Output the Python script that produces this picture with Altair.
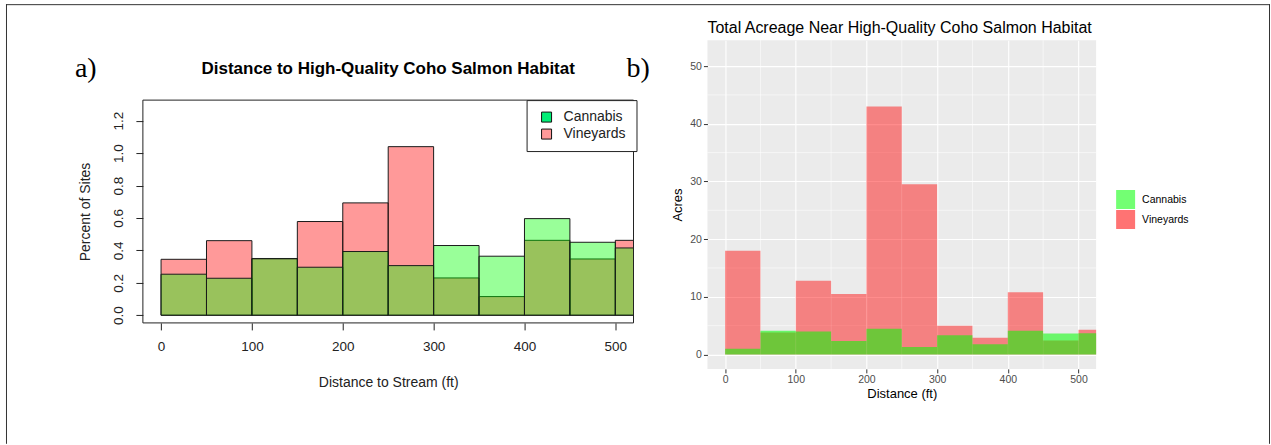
import altair as alt
import pandas as pd

# ---------------- data ----------------
bin_starts = [0, 50, 100, 150, 200, 250, 300, 350, 400, 450, 500]
bin_width = 50
series_names = ["Cannabis", "Vineyards"]

# panel a) percent of sites per 50-ft bin
pct_vineyards = [0.345, 0.46, 0.35, 0.578, 0.693, 1.04, 0.23, 0.115, 0.462, 0.347, 0.462]
pct_cannabis = [0.253, 0.228, 0.348, 0.296, 0.393, 0.306, 0.43, 0.364, 0.596, 0.45, 0.415]

# panel b) total acreage per 50-ft bin
acres_vineyards = [18.0, 3.8, 12.8, 10.5, 43.0, 29.5, 5.0, 2.9, 10.8, 2.4, 4.3]
acres_cannabis = [1.0, 4.1, 4.0, 2.35, 4.45, 1.3, 3.35, 1.75, 4.1, 3.65, 3.7]

left_x_ticks = [0, 100, 200, 300, 400, 500]
left_y_ticks = [0.0, 0.2, 0.4, 0.6, 0.8, 1.0, 1.2]
left_box_x = [-20, 520]
left_box_y = [-0.0475, 1.327]
right_x_ticks = [0, 100, 200, 300, 400, 500]
right_y_ticks = [0, 10, 20, 30, 40, 50]
right_x_minor = [50, 150, 250, 350, 450]
right_y_minor = [5, 15, 25, 35, 45]

FONT = "Liberation Sans"
INK = "#222222"


def series_frame(vals, name):
    return pd.DataFrame({
        "start": bin_starts,
        "end": [s + bin_width for s in bin_starts],
        "value": vals,
        "series": [name] * len(vals),
    })


one = pd.DataFrame({"k": [0]})

# ---------------- panel a (base-R style) ----------------
lx = alt.X(
    "start:Q",
    scale=alt.Scale(domain=left_box_x, nice=False, zero=False),
    axis=alt.Axis(
        values=left_x_ticks, title="Distance to Stream (ft)", domain=False, grid=False,
        tickSize=7, tickColor=INK, labelColor=INK, labelFont=FONT, labelFontSize=13.5,
        labelPadding=10, titleFont=FONT, titleFontSize=14, titleFontWeight="normal",
        titleColor=INK, titleY=64, titleBaseline="alphabetic",
    ),
)
ly = alt.Y(
    "value:Q",
    scale=alt.Scale(domain=[left_box_y[0], 1.697], nice=False, zero=False),
    axis=alt.Axis(
        values=left_y_ticks, format=".1f", labelAngle=270, labelAlign="center",
        labelBaseline="alphabetic", labelPadding=13, tickSize=7, domain=False, grid=False,
        tickColor=INK, labelColor=INK, labelFont=FONT, labelFontSize=13.5,
        title="Percent of Sites", titleX=-53, titleY=171.5, titleAngle=270,
        titleAlign="center", titleBaseline="alphabetic", titleFont=FONT,
        titleFontSize=14, titleFontWeight="normal", titleColor=INK,
    ),
)

left_vine = alt.Chart(series_frame(pct_vineyards, "Vineyards")).mark_rect(
    fill="#FF0000", fillOpacity=0.4, stroke="#1a1a1a", strokeWidth=1, clip=True
).encode(x=lx, x2="end:Q", y=ly, y2=alt.datum(0))

left_cann = alt.Chart(series_frame(pct_cannabis, "Cannabis")).mark_rect(
    fill="#00FF00", fillOpacity=0.4, stroke="#1a1a1a", strokeWidth=1, clip=True
).encode(x=lx, x2="end:Q", y=ly, y2=alt.datum(0))

left_box = alt.Chart(one).mark_rect(filled=False, stroke=INK, strokeWidth=1).encode(
    x=alt.datum(left_box_x[0]), x2=alt.datum(left_box_x[1]),
    y=alt.datum(left_box_y[0]), y2=alt.datum(left_box_y[1]),
)

left_legend_layer = alt.Chart(pd.DataFrame({"series": series_names})).mark_square(
    opacity=0, size=100
).encode(
    x=alt.value(0), y=alt.value(0),
    fill=alt.Fill(
        "series:N",
        scale=alt.Scale(domain=series_names, range=["#00EE76", "#FF9999"]),
        legend=alt.Legend(
            orient="none", legendX=384, legendY=60, title=None,
            strokeColor=INK, fillColor="white", padding=10,
            symbolType="square", symbolSize=100, symbolStrokeColor="#111111",
            symbolStrokeWidth=1, symbolOffset=3, labelOffset=10, rowPadding=3,
            labelFont=FONT, labelFontSize=14, labelColor=INK,
        ),
    ),
)

# whole-figure frame, background extent, panel letters and titles (page furniture)
bg = alt.Chart(one).mark_rect(fill="white", opacity=0).encode(
    x=alt.value(-143), x2=alt.value(1128), y=alt.value(-40), y2=alt.value(405)
)
frame_left = alt.Chart(one).mark_rule(color="#333333", strokeWidth=1).encode(
    x=alt.value(-136.5), y=alt.value(-36), y2=alt.value(404)
)
frame_right = alt.Chart(one).mark_rule(color="#333333", strokeWidth=1).encode(
    x=alt.value(1127.5), y=alt.value(-36), y2=alt.value(404)
)
frame_top = alt.Chart(one).mark_rule(color="#333333", strokeWidth=1).encode(
    x=alt.value(-137), x2=alt.value(1128), y=alt.value(-35.5)
)
label_a = alt.Chart(one).mark_text(
    text="a)", font="Liberation Serif", fontSize=28, align="left", baseline="alphabetic", color="black"
).encode(x=alt.value(-68), y=alt.value(37))
label_b = alt.Chart(one).mark_text(
    text="b)", font="Liberation Serif", fontSize=28, align="left", baseline="alphabetic", color="black"
).encode(x=alt.value(484), y=alt.value(37))
title_a = alt.Chart(one).mark_text(
    text="Distance to High-Quality Coho Salmon Habitat", font=FONT, fontSize=17,
    fontWeight="bold", align="center", baseline="alphabetic", color="black"
).encode(x=alt.value(245.5), y=alt.value(34))

left = alt.layer(
    bg, frame_left, frame_right, frame_top, label_a, label_b, title_a,
    left_vine, left_cann, left_box, left_legend_layer,
).properties(width=491, height=283)

# ---------------- panel b (ggplot style) ----------------
rx_scale = alt.Scale(domain=[-25, 525], nice=False, zero=False)
ry_scale = alt.Scale(domain=[-2.5, 54.5], nice=False, zero=False)

rx_axis = alt.Axis(
    values=right_x_ticks, grid=True, gridColor="white", gridWidth=1.1, domain=False,
    tickSize=4, tickColor="#333333", labelColor="#4D4D4D", labelFont=FONT,
    labelFontSize=10.5, labelPadding=2, title="Distance (ft)", titleFont=FONT,
    titleFontSize=13, titleFontWeight="normal", titleColor="black", titlePadding=2,
)
ry_axis = alt.Axis(
    values=right_y_ticks, grid=True, gridColor="white", gridWidth=1.1, domain=False,
    tickSize=4, tickColor="#333333", labelColor="#4D4D4D", labelFont=FONT,
    labelFontSize=10.5, labelPadding=2, title="Acres", titleFont=FONT,
    titleFontSize=13, titleFontWeight="normal", titleColor="black", titlePadding=5,
)
rx = alt.X("start:Q", scale=rx_scale, axis=rx_axis)
ry = alt.Y("value:Q", scale=ry_scale, axis=ry_axis)

minor_x = alt.Chart(pd.DataFrame({"start": right_x_minor})).mark_rule(
    color="white", strokeWidth=0.55
).encode(x=rx)
minor_y = alt.Chart(pd.DataFrame({"value": right_y_minor})).mark_rule(
    color="white", strokeWidth=0.55
).encode(y=ry)

right_fill = alt.Fill(
    "series:N",
    scale=alt.Scale(domain=series_names, range=["#00FF00", "#FF0000"]),
    legend=alt.Legend(
        orient="none", legendX=409, legendY=150, title=None, padding=0,
        symbolType="square", symbolSize=361, symbolStrokeWidth=0, symbolOpacity=0.55,
        labelOffset=7, rowPadding=1, labelFont=FONT, labelFontSize=10.5, labelColor="black",
    ),
)

right_vine = alt.Chart(series_frame(acres_vineyards, "Vineyards")).mark_rect(
    fillOpacity=0.45, clip=True
).encode(x=rx, x2="end:Q", y=ry, y2=alt.datum(0), fill=right_fill)
right_cann = alt.Chart(series_frame(acres_cannabis, "Cannabis")).mark_rect(
    fillOpacity=0.55, clip=True
).encode(x=rx, x2="end:Q", y=ry, y2=alt.datum(0), fill=right_fill)

title_b = alt.Chart(one).mark_text(
    text="Total Acreage Near High-Quality Coho Salmon Habitat", font=FONT, fontSize=16,
    align="left", baseline="alphabetic", color="black"
).encode(x=alt.value(0), y=alt.value(-7.5))

right = alt.layer(minor_x, minor_y, right_vine, right_cann, title_b).properties(
    width=389, height=329,
    view=alt.ViewBackground(fill="#EBEBEB", strokeWidth=0),
)

chart = alt.hconcat(left, right, spacing=74, bounds="flush").resolve_scale(
    fill="independent"
).properties(padding=0, background="white").configure_view(strokeWidth=0)

chart.save("out.html", embed_options={"renderer": "svg", "actions": False})
